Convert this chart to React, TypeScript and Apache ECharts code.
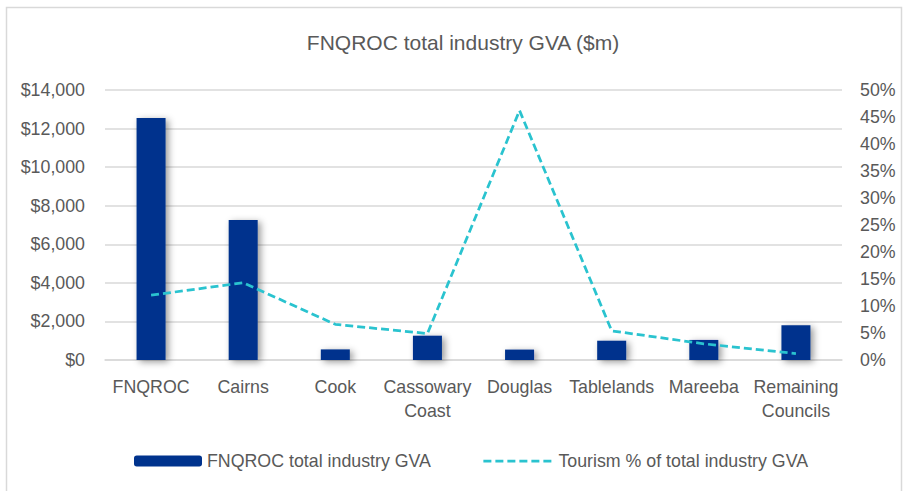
import React, { useEffect, useRef } from "react";
import * as echarts from "echarts";

const categories = ["FNQROC", "Cairns", "Cook", "Cassowary\nCoast", "Douglas", "Tablelands", "Mareeba", "Remaining\nCouncils"];
const gvaValues = [12550, 7260, 550, 1260, 540, 1000, 1040, 1800];
const tourismPct = [12.0, 14.3, 6.6, 4.9, 46.2, 5.4, 3.0, 1.2];
const gvaName = "FNQROC total industry GVA";
const tourismName = "Tourism % of total industry GVA";
const titleText = "FNQROC total industry GVA ($m)";

const FONT = "'Liberation Sans Narrow', 'Arial Narrow', 'Liberation Sans', Arial, sans-serif";
const TXT = "#595959";
const GRID = "#d9d9d9";
const FS = 17.8;

export default function App() {
  const ref = useRef<HTMLDivElement>(null);
  useEffect(() => {
    if (!ref.current) return;
    const chart = echarts.init(ref.current, null, { renderer: "svg" });
    chart.setOption({
      animation: false,
      backgroundColor: "#ffffff",
      textStyle: { fontFamily: FONT },
      title: {
        text: titleText,
        left: 458,
        top: 27,
        textAlign: "center",
        textStyle: { fontFamily: FONT, fontSize: 21, fontWeight: "normal", color: TXT },
      },
      graphic: [
        {
          type: "rect",
          shape: { x: 6.5, y: 7.5, width: 895, height: 500 },
          style: { fill: "none", stroke: GRID, lineWidth: 1.5 },
          silent: true,
        },
      ],
      legend: [
        {
          left: 129,
          top: 447,
          data: [gvaName],
          itemWidth: 68,
          itemHeight: 11,
          textStyle: { fontFamily: FONT, fontSize: FS, color: TXT },
        },
        {
          left: 477,
          top: 447,
          data: [tourismName],
          itemWidth: 70,
          itemHeight: 11,
          itemStyle: { opacity: 0 },
          lineStyle: { width: 2.75, opacity: 1 },
          textStyle: { fontFamily: FONT, fontSize: FS, color: TXT },
        },
      ],
      grid: { left: 105, right: 61, top: 90, bottom: 131, containLabel: false },
      xAxis: {
        type: "category",
        data: categories,
        axisLine: { show: true, lineStyle: { color: GRID, width: 1.5 } },
        axisTick: { show: false },
        axisLabel: {
          fontFamily: FONT,
          fontSize: FS,
          color: TXT,
          margin: 15,
          lineHeight: 24,
          interval: 0,
        },
      },
      yAxis: [
        {
          type: "value",
          min: 0,
          max: 14000,
          interval: 2000,
          axisLine: { show: false },
          axisTick: { show: false },
          splitLine: { show: true, lineStyle: { color: GRID, width: 1.5 } },
          axisLabel: {
            fontFamily: FONT,
            fontSize: FS,
            color: TXT,
            margin: 20,
            formatter: (v: number) => "$" + v.toLocaleString("en-US"),
          },
        },
        {
          type: "value",
          min: 0,
          max: 50,
          interval: 5,
          position: "right",
          axisLine: { show: false },
          axisTick: { show: false },
          splitLine: { show: false },
          axisLabel: {
            fontFamily: FONT,
            fontSize: FS,
            color: TXT,
            margin: 18,
            formatter: "{value}%",
          },
        },
      ],
      series: [
        {
          name: gvaName,
          type: "bar",
          data: gvaValues,
          yAxisIndex: 0,
          barWidth: "31.5%",
          itemStyle: {
            color: "#00338d",
            shadowColor: "rgba(0,0,0,0.4)",
            shadowBlur: 7,
            shadowOffsetX: 3,
            shadowOffsetY: 2,
          },
        },
        {
          name: tourismName,
          type: "line",
          data: tourismPct,
          yAxisIndex: 1,
          symbol: "none",
          showSymbol: false,
          lineStyle: { color: "#2ac3cf", width: 2.75, type: [8, 4] },
          itemStyle: { color: "#2ac3cf" },
        },
      ],
    });
    return () => chart.dispose();
  }, []);
  return (
    <div
      ref={ref}
      style={{ position: "absolute", left: 0, top: 0, width: 903, height: 491 }}
    />
  );
}
